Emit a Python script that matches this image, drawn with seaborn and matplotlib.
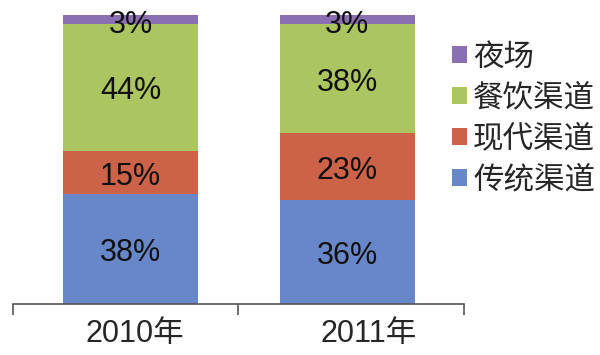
import matplotlib
matplotlib.use("Agg")
import matplotlib.pyplot as plt
import pandas as pd
import seaborn as sns

years = ["2010年", "2011年"]
channels = ["传统渠道", "现代渠道", "餐饮渠道", "夜场"]
traditional = [38, 36]
modern = [15, 23]
dining = [44, 38]
night = [3, 3]
colors = ["#6887C9", "#CC6349", "#ABC560", "#8A6FB3"]

sns.set_style("white")
plt.rcParams["font.family"] = ["Liberation Sans", "Noto Sans CJK SC"]

df = pd.DataFrame({"year": years, "传统渠道": traditional, "现代渠道": modern,
                   "餐饮渠道": dining, "夜场": night})

fig = plt.figure(figsize=(6, 3.55), dpi=100)
ax = fig.add_axes([0.022, 0.144, 0.751, 0.814])

bottom = pd.Series([0, 0])
for name, color in zip(channels, colors):
    sns.barplot(data=df, x="year", y=name, color=color, width=0.62, bottom=bottom,
                label=name, ax=ax, saturation=1, linewidth=0)
    bottom = bottom + df[name]

for cont in ax.containers:
    ax.bar_label(cont, labels=[f"{v:.0f}%" for v in cont.datavalues],
                 label_type="center", fontsize=22, color="#111111")
# labels sit slightly below the segment centres in the original
for t in ax.texts:
    t.xyann = (0, -3)
for t in ax.texts[-2:]:
    t.xyann = (0, -4)

ax.set_ylim(0, 100)
ax.set_xlim(-0.541, 1.537)
ax.set_xlabel("")
ax.set_ylabel("")
ax.set_yticks([])
for s in ["left", "right", "top"]:
    ax.spines[s].set_visible(False)
ax.spines["bottom"].set_color("#555555")
ax.spines["bottom"].set_linewidth(1.2)
ax.set_xticks([0.02, 1.1])
ax.set_xticklabels(years, fontsize=22)
ax.tick_params(axis="x", which="major", length=0, pad=11)
ax.set_xticks([-0.541, 0.495, 1.537], minor=True)
ax.tick_params(axis="x", which="minor", bottom=True, length=8, width=1.2,
               color="#555555", direction="out")

handles, labels = ax.get_legend_handles_labels()
ax.legend(handles[::-1], labels[::-1], loc="upper left",
          bbox_to_anchor=(0.753, 0.88), bbox_transform=fig.transFigure,
          frameon=False, fontsize=22, handlelength=0.5, handleheight=0.5,
          handletextpad=0.2, labelspacing=0.36, borderpad=0, borderaxespad=0)

fig.savefig("out.png", dpi=100)
